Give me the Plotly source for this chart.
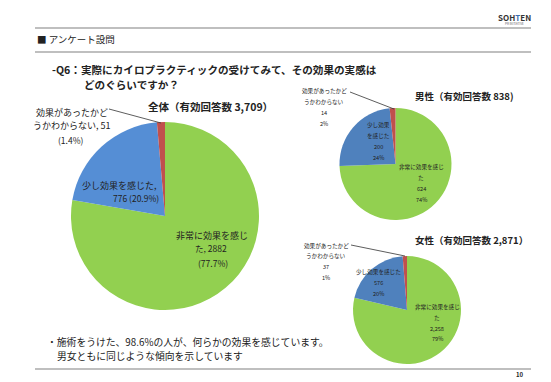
import plotly.graph_objects as go

W, H = 551, 382

categories = ["非常に効果を感じた", "少し効果を感じた", "効果があったかどうかわからない"]
total_counts = [2882, 776, 51]
total_pcts = ["77.7%", "20.9%", "1.4%"]
male_counts = [624, 200, 14]
male_pcts = ["74%", "24%", "2%"]
female_counts = [2258, 576, 37]
female_pcts = ["79%", "20%", "1%"]
total_n, male_n, female_n = "3,709", "838", "2,871"

FONT = "Noto Sans CJK JP"
GREEN, RED = "#92D050", "#C0504D"
BLUE_BIG, BLUE_SMALL = "#558ED5", "#4F81BD"


def px(x):
    return x / W


def py(y):
    return 1 - y / H


def dom(cx, cy, r):
    return dict(x=[px(cx - r), px(cx + r)], y=[py(cy + r), py(cy - r)])


fig = go.Figure()
for vals, blue, d in [
    (total_counts, BLUE_BIG, dom(157, 208, 94)),
    (male_counts, BLUE_SMALL, dom(387.5, 156, 56)),
    (female_counts, BLUE_SMALL, dom(399, 302, 54)),
]:
    fig.add_trace(go.Pie(
        labels=categories, values=vals, sort=False, direction="clockwise",
        rotation=0, textinfo="none", hoverinfo="label+value+percent",
        marker=dict(colors=[GREEN, blue, RED], line=dict(width=0)),
        domain=d, showlegend=False,
    ))

ann = []


def txt(x, y, s, size, bold=False, color="#222", anchor="center"):
    ann.append(dict(
        x=px(x), y=py(y), xref="paper", yref="paper", text=f"<b>{s}</b>" if bold else s,
        showarrow=False, xanchor=anchor, yanchor="middle",
        font=dict(family=FONT, size=size, color=color),
    ))


# header
txt(506, 10, "<b>SOH<span style='color:#3a6fb0'>T</span>EN</b>", 8, color="#333")
txt(506, 16, "PR INITIATIVE", 3, color="#666")
txt(27, 31, "■ アンケート設問", 9.5, anchor="left")

# title
txt(42, 61, "-Q6：実際にカイロプラクティックの受けてみて、その効果の実感は", 10.6, bold=True, anchor="left")
txt(74, 76, "どのぐらいですか？", 10.6, bold=True, anchor="left")

# pie titles
txt(202, 98, f"全体（有効回答数 {total_n}）", 10.5, bold=True)
txt(456, 88, f"男性（有効回答数 {male_n})", 9.5, bold=True)
txt(463, 232, f"女性（有効回答数 {female_n}）", 9.5, bold=True)

# big pie labels
txt(64, 105, "効果があったかど", 9)
txt(64, 118, f"うかわからない, {total_counts[2]}", 9)
txt(63, 132, f"({total_pcts[2]})", 8.5)
txt(111, 177, "少し効果を感じた,", 9)
txt(128, 190, f"{total_counts[1]} ({total_pcts[1]})", 8.5)
txt(204, 227, "非常に効果を感じ", 9)
txt(203, 240, f"た, {total_counts[0]}", 8.5)
txt(205, 255, f"({total_pcts[0]})", 8.5)

# male labels
sm = 5.6
for i, s in enumerate(["効果があったかど", "うかわからない", f"{male_counts[2]}", male_pcts[2]]):
    txt(316, 83 + i * 11, s, sm)
for i, s in enumerate(["少し効果", "を感じた", f"{male_counts[1]}", male_pcts[1]]):
    txt(370, 117 + i * 11, s, sm)
for i, s in enumerate(["非常に効果を感じ", "た", f"{male_counts[0]}", male_pcts[0]]):
    txt(413, 159 + i * 11, s, sm)

# female labels
for i, s in enumerate(["効果があったかど", "うかわからない", f"{female_counts[2]}", female_pcts[2]]):
    txt(318, 238 + i * 10.5, s, sm)
for i, s in enumerate(["少し効果を感じた", f"{female_counts[1]}", female_pcts[1]]):
    txt(370, 264 + i * 11, s, sm)
for i, s in enumerate(["非常に効果を感じ", "た", f"{female_counts[0]:,}", female_pcts[0]]):
    txt(429, 299 + i * 10.8, s, sm)

# bottom text
txt(37, 334, "・施術をうけた、98.6%の人が、何らかの効果を感じています。", 9.8, anchor="left")
txt(47, 348, "男女ともに同じような傾向を示しています", 9.8, anchor="left")
txt(512, 366, "10", 6, bold=True)

shapes = []


def line(x0, y0, x1, y1, color="#333", width=0.8):
    shapes.append(dict(type="line", xref="paper", yref="paper", x0=px(x0), y0=py(y0),
                       x1=px(x1), y1=py(y1), line=dict(color=color, width=width)))


line(27, 20, 523, 20, "#aaa", 1.5)
line(27, 44, 523, 44, "#aaa", 1.5)
line(27, 361, 523, 361, "#aaa", 1.5)
# leader lines
line(101, 101, 153, 115)
line(342, 84, 386, 101)
line(343, 237, 397, 248)

fig.update_layout(
    width=W, height=H, margin=dict(l=0, r=0, t=0, b=0),
    paper_bgcolor="white", plot_bgcolor="white",
    annotations=ann, shapes=shapes,
)
fig.write_html("out.html")
